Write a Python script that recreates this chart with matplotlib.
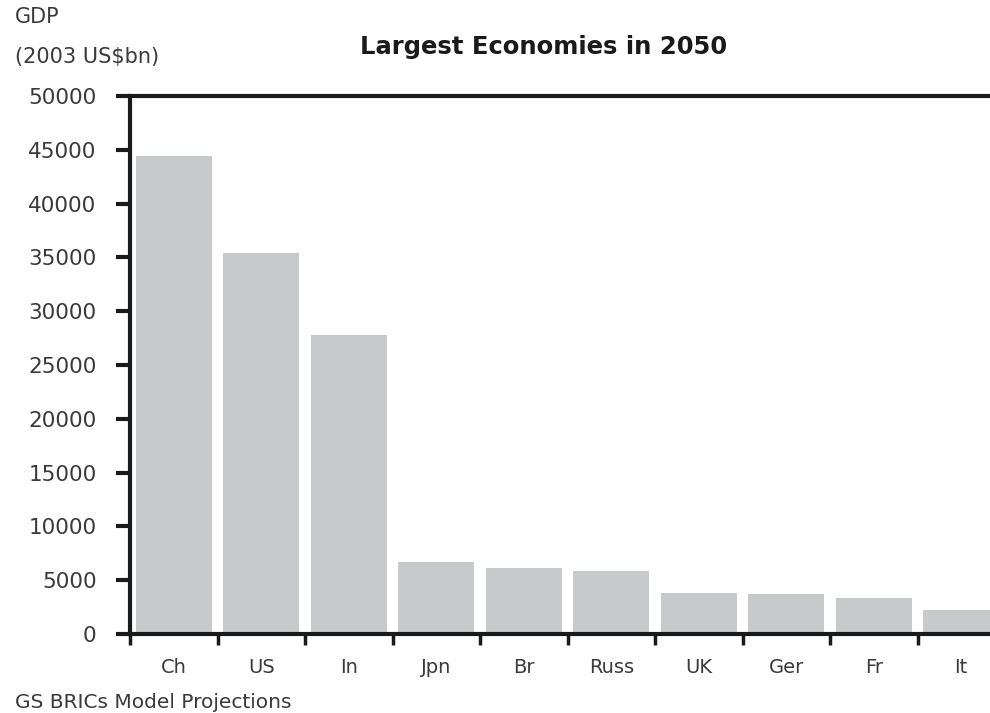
import numpy as np
import matplotlib.pyplot as plt

# GS BRICs projections, 2050 GDP in 2003 US$bn
countries = ['Ch', 'US', 'In', 'Jpn', 'Br', 'Russ', 'UK', 'Ger', 'Fr', 'It']
gdp_2050 = [44450, 35400, 27800, 6700, 6100, 5900, 3800, 3750, 3300, 2200]
yticks = [0, 5000, 10000, 15000, 20000, 25000, 30000, 35000, 40000, 45000, 50000]

plt.rcParams['font.family'] = ['DejaVu Sans']
text_col = '#3a3a3a'

fig = plt.figure(figsize=(9.9, 7.13), dpi=100)
# the plot area runs slightly past the right edge of the figure
ax = fig.add_axes([130/990, 79/713, 875/990, 538/713])

x = np.arange(len(countries))
ax.bar(x, gdp_2050, width=0.87, color='#c8c9cb', zorder=2)

ax.set_xlim(-0.5, len(countries) - 0.5)
ax.set_ylim(0, 50000)

ax.set_yticks(yticks)
ax.set_yticklabels([str(v) for v in yticks], fontsize=15.5, color=text_col)
ax.tick_params(axis='y', direction='out', length=10, width=3, pad=14, colors='#1a1a1a',
               labelcolor=text_col)

# ticks sit on the category boundaries, labels in the middle of each slot
ax.set_xticks(np.arange(len(countries) + 1) - 0.5)
ax.set_xticklabels([])
ax.set_xticks(x, minor=True)
ax.set_xticklabels(countries, minor=True, fontsize=14, color=text_col)
ax.tick_params(axis='x', which='major', direction='out', length=8, width=2.5, colors='#1a1a1a')
ax.tick_params(axis='x', which='minor', length=0, pad=17, labelcolor=text_col)

for side in ['left', 'bottom', 'top']:
    ax.spines[side].set_linewidth(3)
    ax.spines[side].set_color('#1a1a1a')
ax.spines['right'].set_visible(False)

fig.text(15/990, 1 - 17/713, 'GDP', fontsize=15, color=text_col, va='center', ha='left')
fig.text(15/990, 1 - 57/713, '(2003 US$bn)', fontsize=15, color=text_col, va='center', ha='left')
fig.text(544/990, 1 - 47/713, 'Largest Economies in 2050', fontsize=17.5, fontweight='bold',
         color='#1a1a1a', va='center', ha='center')
fig.text(15/990, 1 - 703/713, 'GS BRICs Model Projections', fontsize=14.5, color=text_col,
         va='center', ha='left')

fig.savefig('out.png', dpi=100)
